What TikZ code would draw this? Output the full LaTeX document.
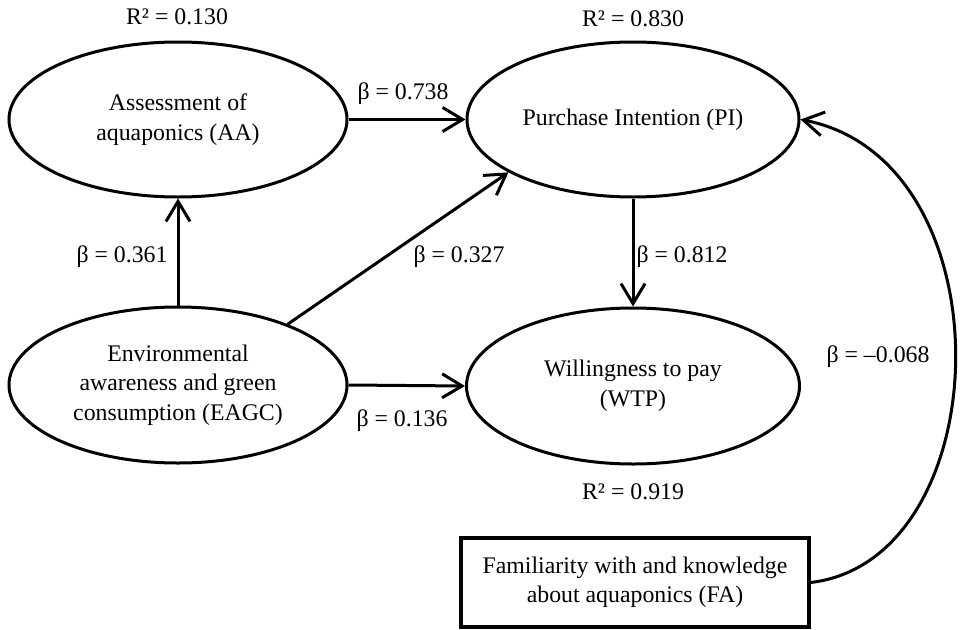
\documentclass[tikz,border=0pt]{standalone}
\usepackage{fontspec}
\setmainfont{Liberation Serif}
\usetikzlibrary{shapes.geometric,arrows.meta}
\newcommand{\bcoef}[1]{β = #1}
\newcommand{\rsq}[1]{R² = #1}
\begin{document}
\begin{tikzpicture}[x=1pt,y=-1pt,
  every node/.style={font=\fontsize{23.8}{29.5}\selectfont},
  construct/.style={ellipse,draw,line width=3pt,inner sep=0pt,align=center},
  link/.style={line width=3pt,-{Straight Barb[length=20pt,width=24pt]}},
  lbl/.style={anchor=base,inner sep=0pt}]
\useasboundingbox (0,0) rectangle (960,629);

% latent constructs
\node[construct,minimum width=338pt,minimum height=155pt] (AA) at (178,119.5) {Assessment of\\aquaponics (AA)};
\node[construct,minimum width=332pt,minimum height=155pt] (PI) at (633,119.5) {Purchase Intention (PI)};
\node[construct,minimum width=338pt,minimum height=156pt] (EAGC) at (178,385) {Environmental\\awareness and green\\consumption (EAGC)};
\node[construct,minimum width=333pt,minimum height=156pt] (WTP) at (633,386) {Willingness to pay\\(WTP)};
\node[draw,line width=3.3pt,minimum width=348pt,minimum height=89pt,align=center,inner sep=0pt] (FA) at (635,582.5) {Familiarity with and knowledge\\about aquaponics (FA)};

% structural paths
\draw[link] (EAGC) -- (AA);
\draw[link] (AA) -- (PI);
\draw[link] (PI) -- (WTP);
\draw[link] (EAGC.east) -- (WTP.west);
\draw[link] (EAGC.29) -- (PI.203);
\draw[link] (FA.east) .. controls (1000,560) and (1010,160) .. (PI.east);

% explained variance
\node[lbl] (rAA) at (177,24) {\rsq{0.130}};
\node[lbl] (rPI) at (633,26) {\rsq{0.830}};
\node[lbl] (rWTP) at (633,499) {\rsq{0.919}};

% path coefficients
\node[lbl] (bAAPI) at (403,99) {\bcoef{0.738}};
\node[lbl] (bEAGCAA) at (122,262) {\bcoef{0.361}};
\node[lbl] (bEAGCPI) at (459,262) {\bcoef{0.327}};
\node[lbl] (bPIWTP) at (682,262) {\bcoef{0.812}};
\node[lbl] (bEAGCWTP) at (402,426) {\bcoef{0.136}};
\node[lbl] (bFAPI) at (878,362) {\bcoef{–0.068}};
\end{tikzpicture}
\end{document}
